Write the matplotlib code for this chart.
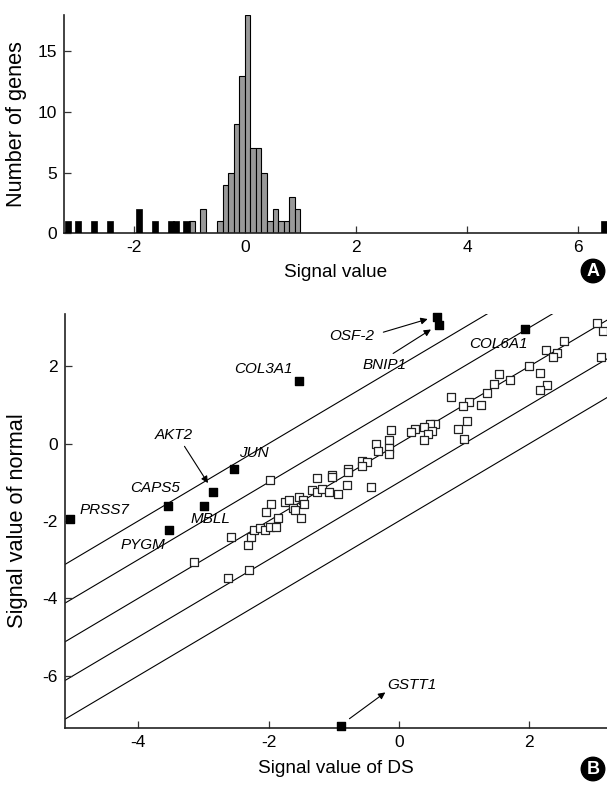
import matplotlib
matplotlib.use('Agg')
import matplotlib.pyplot as plt
import numpy as np

plt.rcParams['font.family'] = ['Liberation Sans', 'DejaVu Sans']
plt.rcParams['axes.unicode_minus'] = False

# ---- panel A data: histogram of signal values
gray_left = [-1.0, -0.8, -0.5, -0.4, -0.3, -0.2, -0.1, 0.0, 0.1, 0.2, 0.3, 0.4, 0.5, 0.6, 0.7, 0.8, 0.9]
gray_count = [1, 2, 1, 4, 5, 9, 13, 18, 7, 7, 5, 1, 2, 1, 1, 3, 2]
black_center = [-3.19, -3.01, -2.72, -2.42, -1.90, -1.62, -1.33, -1.24, -1.05, 6.46]
black_count = [1, 1, 1, 1, 2, 1, 1, 1, 1, 1]

# ---- panel B data: signal value of DS vs normal
open_ds = [-1.98, -1.96, -2.04, -1.85, -1.75, -1.68, -1.63, -1.59, -1.53, -1.47,
           -1.46, -1.50, -1.34, -1.26, -1.18, -1.26, -1.08, -1.02, -1.02, -0.94,
           -2.58, -2.31, -2.27, -2.22, -2.13, -2.06, -1.98, -1.89, -3.15, -2.62,
           -2.30,
           3.04, 3.13, 2.53, 2.26, 2.42, 2.36, 2.00, 2.17, 3.10, 1.54,
           1.71, 1.46, 1.35, 2.27, 2.17, 0.80, 1.08, 0.98, 1.26, 1.04,
           0.90, 0.99, 0.55, 0.48, 0.39, 0.50, 0.44, 0.39, 0.24, 0.19,
           -0.13, -0.15, -0.16, -0.16, -0.35, -0.32, -0.43, -0.56, -0.49, -0.56,
           -0.78, -0.78, -0.80]
open_normal = [-0.93, -1.56, -1.77, -1.93, -1.50, -1.45, -1.67, -1.71, -1.38, -1.45,
               -1.55, -1.92, -1.21, -1.24, -1.17, -0.90, -1.24, -0.80, -0.87, -1.29,
               -2.42, -2.63, -2.41, -2.22, -2.18, -2.22, -2.15, -2.15, -3.05, -3.48,
               -3.26,
               3.13, 2.90, 2.66, 2.41, 2.34, 2.24, 2.00, 1.83, 2.24, 1.79,
               1.64, 1.55, 1.31, 1.52, 1.38, 1.21, 1.07, 0.98, 1.01, 0.58,
               0.39, 0.13, 0.51, 0.51, 0.43, 0.32, 0.25, 0.09, 0.39, 0.29,
               0.34, 0.10, -0.11, -0.28, 0.00, -0.20, -1.12, -0.46, -0.47, -0.58,
               -0.65, -0.74, -1.08]

gene_names = ['PRSS7', 'CAPS5', 'PYGM', 'MBLL', 'AKT2', 'JUN', 'COL3A1',
              'OSF-2', 'BNIP1', 'COL6A1', 'GSTT1']
gene_ds = [-5.04, -3.54, -3.52, -2.99, -2.85, -2.53, -1.54, 0.58, 0.61, 1.93, -0.89]
gene_normal = [-1.95, -1.62, -2.24, -1.60, -1.25, -0.65, 1.61, 3.26, 3.06, 2.95, -7.29]

line_offsets = [2, 1, 0, -1, -2]   # normal = DS + offset

# label placement (left edge, vertical centre) in data units
label_xy = {'PRSS7': (-4.9, -1.71), 'CAPS5': (-4.13, -1.14), 'PYGM': (-4.27, -2.63),
            'MBLL': (-3.19, -1.94), 'AKT2': (-3.74, 0.21), 'JUN': (-2.45, -0.23),
            'COL3A1': (-2.53, 1.93), 'OSF-2': (-1.07, 2.79), 'BNIP1': (-0.56, 2.04),
            'COL6A1': (1.07, 2.58), 'GSTT1': (-0.18, -6.23)}
arrows = {'AKT2': ((-3.29, -0.07), (-2.93, -1.02)),
          'OSF-2': ((-0.24, 2.88), (0.44, 3.22)),
          'BNIP1': ((-0.09, 2.33), (0.49, 2.95)),
          'GSTT1': ((-0.76, -7.11), (-0.21, -6.43))}

fig = plt.figure(figsize=(6.07, 7.87), dpi=100)
W, H = 607.0, 787.0

def style(ax):
    ax.spines['top'].set_visible(False)
    ax.spines['right'].set_visible(False)
    for s in ('left', 'bottom'):
        ax.spines[s].set_linewidth(1.2)
        ax.spines[s].set_color('#222222')
    ax.tick_params(direction='in', length=5, width=0.9, labelsize=12.5, pad=5,
                   color='#333333')

# ---- A
axA = fig.add_axes([64.3 / W, (H - 233.3) / H, (W - 64.3) / W, (233.3 - 15) / H])
axA.bar(gray_left, gray_count, width=0.1, align='edge', color='#999999',
        edgecolor='black', linewidth=0.8, zorder=2)
axA.bar(black_center, black_count, width=0.11, color='black',
        edgecolor='black', linewidth=0.5, zorder=3)
axA.set_xlim(-3.25, 6.52)
axA.set_ylim(0, 18)
axA.set_xticks([-2, 0, 2, 4, 6])
axA.set_yticks([0, 5, 10, 15])
style(axA)
axA.set_xlabel('Signal value', fontsize=13.7)
axA.set_ylabel('Number of genes', fontsize=15.7)
axA.xaxis.set_label_coords(0.5, -0.14)
axA.yaxis.set_label_coords(-0.068, 0.5)

# ---- B
axB = fig.add_axes([64.5 / W, (H - 728) / H, (W - 64.5) / W, (728 - 314) / H])
xx = np.array([-6.0, 4.0])
for c in line_offsets:
    axB.plot(xx, xx + c, color='black', lw=0.8, zorder=1)
axB.scatter(open_ds, open_normal, marker='s', s=30, facecolors='white',
            edgecolors='#222222', linewidths=0.9, zorder=3)
axB.scatter(gene_ds, gene_normal, marker='s', s=40, color='black', zorder=4,
            clip_on=False)
for name in gene_names:
    tx, ty = label_xy[name]
    axB.text(tx, ty, name, fontsize=11, style='italic', ha='left', va='center',
             zorder=5)
for name, (p0, p1) in arrows.items():
    axB.annotate('', xy=p1, xytext=p0,
                 arrowprops=dict(arrowstyle='-|>', color='black', lw=0.8,
                                 mutation_scale=10, shrinkA=0, shrinkB=0))
axB.set_xlim(-5.13, 3.19)
axB.set_ylim(-7.35, 3.35)
axB.set_xticks([-4, -2, 0, 2])
axB.set_yticks([-6, -4, -2, 0, 2])
style(axB)
axB.set_xlabel('Signal value of DS', fontsize=13.7)
axB.set_ylabel('Signal value of normal', fontsize=15.7)
axB.xaxis.set_label_coords(0.5, -0.077)
axB.yaxis.set_label_coords(-0.068, 0.5)

# panel letters
for lab, ypx in (('A', 271), ('B', 769)):
    fig.text(593 / W, 1 - ypx / H, lab, color='white', fontsize=13, weight='bold',
             ha='center', va='center',
             bbox=dict(boxstyle='circle,pad=0.18', fc='black', ec='black'))

fig.savefig('out.png', dpi=100)
